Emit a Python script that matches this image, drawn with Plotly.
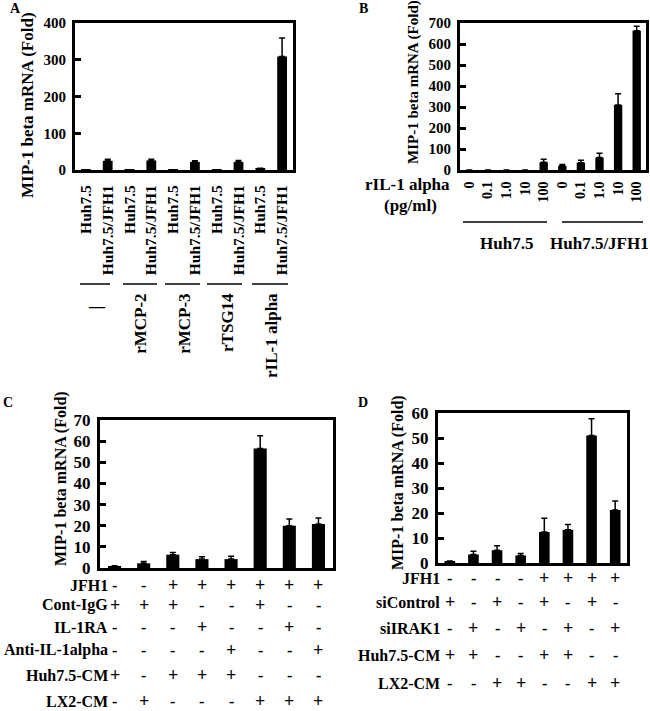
import plotly.graph_objects as go

W, H = 650, 711
def X(px): return px / W
def Y(py): return 1 - py / H

FONT = "Liberation Serif"

# ---------------- Data ----------------
# Panel A
a_cats = ["Huh7.5", "Huh7.5/JFH1"] * 5
a_vals = [0.5, 25, 0.5, 26, 0.5, 22, 0.5, 22, 4, 309]
a_err = [0, 4, 0, 3, 0, 3, 0, 4, 0.5, 50]
a_groups = ["\u2014", "rMCP-2", "rMCP-3", "rTSG14", "rIL-1 alpha"]

# Panel B
b_doses = ["0", "0.1", "1.0", "10", "100"] * 2
b_vals = [0, 0, 0, 0, 37, 20, 35, 59, 310, 663]
b_err = [0, 0, 0, 0, 14, 6, 12, 21, 53, 21]
b_groups = ["Huh7.5", "Huh7.5/JFH1"]

# Panel C
c_vals = [0.8, 2.2, 6.3, 4.2, 4.2, 56.5, 20.0, 20.8]
c_err = [0.3, 0.9, 1.0, 1.1, 1.4, 6.0, 3.2, 2.8]
c_rows = {
    "JFH1":           ["-", "-", "+", "+", "+", "+", "+", "+"],
    "Cont-IgG":       ["+", "+", "+", "-", "-", "+", "-", "-"],
    "IL-1RA":         ["-", "-", "-", "+", "-", "-", "+", "-"],
    "Anti-IL-1alpha": ["-", "-", "-", "-", "+", "-", "-", "+"],
    "Huh7.5-CM":      ["+", "-", "+", "+", "+", "-", "-", "-"],
    "LX2-CM":         ["-", "+", "-", "-", "-", "+", "+", "+"],
}

# Panel D
d_vals = [0.7, 3.4, 5.1, 3.0, 12.4, 13.3, 51.0, 21.2]
d_err = [0.1, 1.3, 1.8, 0.8, 5.5, 2.1, 6.7, 3.6]
d_rows = {
    "JFH1":      ["-", "-", "-", "-", "+", "+", "+", "+"],
    "siControl": ["+", "-", "+", "-", "+", "-", "+", "-"],
    "siIRAK1":   ["-", "+", "-", "+", "-", "+", "-", "+"],
    "Huh7.5-CM": ["+", "+", "-", "-", "+", "+", "-", "-"],
    "LX2-CM":    ["-", "-", "+", "+", "-", "-", "+", "+"],
}

YTITLE = "MIP-1 beta mRNA (Fold)"

fig = go.Figure()

def bars(vals, err, xa, ya):
    n = len(vals)
    fig.add_trace(go.Bar(
        x=list(range(n)), y=vals, width=0.45, marker=dict(color="black", line=dict(width=0)),
        error_y=dict(type="data", symmetric=False, array=err, arrayminus=[0] * n,
                     color="black", thickness=1.5, width=3),
        xaxis=xa, yaxis=ya, showlegend=False, hoverinfo="skip"))

bars(a_vals, a_err, "x", "y")
bars(b_vals, b_err, "x2", "y2")
bars(c_vals, c_err, "x3", "y3")
bars(d_vals, d_err, "x4", "y4")
# invisible trace to carry the group-label axis of panel A
fig.add_trace(go.Scatter(x=[2 * i + 0.5 for i in range(5)], y=[0] * 5, mode="markers",
                         marker=dict(opacity=0), xaxis="x5", yaxis="y",
                         showlegend=False, hoverinfo="skip"))

def yax(dom, rng, dtick, size, anchor):
    return dict(domain=dom, range=rng, dtick=dtick, showgrid=False, zeroline=False,
                showline=True, mirror=True, linecolor="black", linewidth=3,
                ticks="inside", ticklen=6, tickwidth=3, tickcolor="black", anchor=anchor,
                tickfont=dict(family=FONT, size=size, color="black", weight="bold"),
                ticklabelstandoff=3, fixedrange=True, automargin=False)

def xax(dom, n, anchor, labels=None, size=15, standoff=2):
    d = dict(domain=dom, range=[-0.5, n - 0.5], showgrid=False, zeroline=False,
             showline=True, mirror=True, linecolor="black", linewidth=3,
             ticks="", anchor=anchor, fixedrange=True, automargin=False)
    if labels is None:
        d["showticklabels"] = False
    else:
        d.update(tickmode="array", tickvals=list(range(n)), ticktext=labels,
                 tickangle=-90, ticklabelstandoff=standoff,
                 tickfont=dict(family=FONT, size=size, color="black", weight="bold"))
    return d

layout = dict(
    width=W, height=H, margin=dict(l=0, r=0, t=0, b=0, autoexpand=False),
    paper_bgcolor="white", plot_bgcolor="white",
    font=dict(family=FONT, color="black", weight="bold"),
    xaxis=xax([X(75), X(293)], 10, "y", a_cats, 15.5, 6),
    yaxis=yax([Y(170), Y(23)], [0, 400], 100, 15, "x"),
    xaxis2=xax([X(460), X(646)], 10, "y2", b_doses, 14, 3),
    yaxis2=yax([Y(170), Y(23)], [0, 700], 100, 15, "x2"),
    xaxis3=xax([X(100), X(333)], 8, "y3"),
    yaxis3=yax([Y(568), Y(420)], [0, 70], 10, 17, "x3"),
    xaxis4=xax([X(438), X(627)], 8, "y4"),
    yaxis4=yax([Y(563), Y(413)], [0, 60], 10, 17, "x4"),
    xaxis5=dict(domain=[X(75), X(293)], range=[-0.5, 9.5], overlaying="x", anchor="free",
                position=Y(286), showline=False, showgrid=False, zeroline=False, ticks="",
                tickmode="array", tickvals=[2 * i + 0.5 for i in range(1, 5)],
                ticktext=a_groups[1:], ticklabelstandoff=3,
                tickangle=-90, fixedrange=True, automargin=False,
                tickfont=dict(family=FONT, size=17, color="black", weight="bold")),
)
fig.update_layout(**layout)

ann = []
def txt(x, y, t, size, xanchor="center", yanchor="middle", angle=0, xref="paper"):
    ann.append(dict(x=x, y=y, text=t, xref=xref, yref="paper", showarrow=False,
                    xanchor=xanchor, yanchor=yanchor, textangle=angle,
                    font=dict(family=FONT, size=size, color="black", weight="bold")))

# panel letters
txt(X(15), Y(8), "A", 14)
txt(X(363), Y(8), "B", 14)
txt(X(8), Y(402), "C", 14)
txt(X(363), Y(402), "D", 14)

# y titles
txt(X(28), Y(105), YTITLE, 17, angle=-90)
txt(X(413), Y(82), YTITLE, 15, angle=-90)
txt(X(61), Y(479), YTITLE, 16, angle=-90)
txt(X(398), Y(483), YTITLE, 16, angle=-90)

# panel A: control group label (a dash)
txt(0.5, Y(306), a_groups[0], 16, xref="x")

# panel B annotations
txt(X(452), Y(184), "rIL-1 alpha", 17, xanchor="right")
txt(X(410), Y(205), "(pg/ml)", 17)
txt(2, Y(243), b_groups[0], 17, xref="x2")
txt(7, Y(243), b_groups[1], 17, xref="x2")

shapes = []
def hline(x0, x1, y):
    shapes.append(dict(type="line", xref="paper", yref="paper", x0=X(x0), x1=X(x1),
                       y0=Y(y), y1=Y(y), line=dict(color="black", width=1.5)))
hline(463, 547, 222)
hline(562, 643, 222)
# panel A group lines
for x0, x1 in [(80, 110), (123, 157), (165, 200), (207, 242), (252, 288)]:
    hline(x0, x1, 284)

# panel C rows
c_y = [585, 605, 627, 650, 675, 701]
for (lab, signs), yy in zip(c_rows.items(), c_y):
    txt(X(110), Y(yy), lab, 16, xanchor="right")
    for i, s in enumerate(signs):
        txt(i, Y(yy), s, 18 if s == "+" else 16, xref="x3")

# panel D rows
d_y = [578, 602, 628, 655, 683]
for (lab, signs), yy in zip(d_rows.items(), d_y):
    txt(X(442), Y(yy), lab, 16, xanchor="right")
    for i, s in enumerate(signs):
        txt(i, Y(yy), s, 18 if s == "+" else 16, xref="x4")

fig.update_layout(annotations=ann, shapes=shapes)
fig.write_html("out.html", config={"displayModeBar": False},
               post_script="document.body.style.margin='0px';document.body.style.overflow='hidden';")
